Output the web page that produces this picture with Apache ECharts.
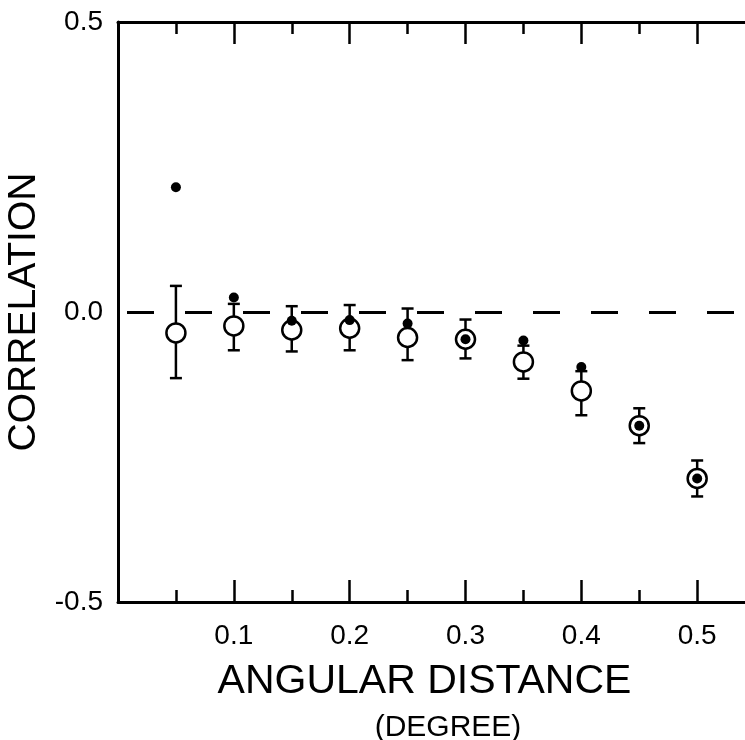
<!DOCTYPE html>
<html>
<head>
<meta charset="utf-8">
<script src="https://cdn.jsdelivr.net/npm/echarts@6/dist/echarts.min.js"></script>
<style>
  html, body { margin: 0; padding: 0; background: #fff; }
  #chart { width: 745px; height: 740px; }
</style>
</head>
<body>
<div id="chart"></div>
<script>
// angular distance (degree) of each point
const distances = [0.05, 0.10, 0.15, 0.20, 0.25, 0.30, 0.35, 0.40, 0.45, 0.50]
// open circles: mean correlation with error bar ends
const openMean = [-0.036, -0.024, -0.031, -0.028, -0.044, -0.047, -0.086, -0.136, -0.196, -0.287]
const errHigh = [0.045, 0.014, 0.010, 0.012, 0.006, -0.013, -0.058, -0.102, -0.166, -0.256]
const errLow = [-0.114, -0.066, -0.068, -0.066, -0.083, -0.080, -0.115, -0.178, -0.226, -0.318]
// filled dots
const filledVals = [0.215, 0.025, -0.015, -0.014, -0.020, -0.047, -0.049, -0.095, -0.196, -0.287]
const yTicks = [-0.5, 0.0, 0.5]
const xTickLabels = ['0.1', '0.2', '0.3', '0.4', '0.5']

const font = "'Liberation Sans', Arial, Helvetica, sans-serif"
const ink = '#000'

const openData = distances.map((d, i) => [d, openMean[i]])
const filledData = distances.map((d, i) => [d, filledVals[i]])
const barData = distances.map((d, i) => [d, errLow[i], errHigh[i]])

function renderErrorBar(params, api) {
    const x = api.value(0)
    const lo = api.coord([x, api.value(1)])
    const hi = api.coord([x, api.value(2)])
    const half = 6
    const style = { stroke: ink, lineWidth: 2.5, fill: null }
    return {
        type: 'group',
        children: [
            { type: 'line', shape: { x1: hi[0], y1: hi[1], x2: lo[0], y2: lo[1] }, style: style },
            { type: 'line', shape: { x1: hi[0] - half, y1: hi[1], x2: hi[0] + half, y2: hi[1] }, style: style },
            { type: 'line', shape: { x1: lo[0] - half, y1: lo[1], x2: lo[0] + half, y2: lo[1] }, style: style }
        ]
    }
}

// the frame runs past the right edge of the page, so the axis goes to 0.6
function xAxisSide(position, majorLen, withLabels) {
    return {
        type: 'value',
        position: position,
        min: 0,
        max: 0.6,
        interval: 0.1,
        axisLine: { show: true, onZero: false, lineStyle: { color: ink, width: 3 } },
        axisTick: { show: true, inside: true, length: majorLen, lineStyle: { color: ink, width: 2.5 } },
        minorTick: { show: true, splitNumber: 2, length: 12, lineStyle: { color: ink, width: 2.5 } },
        axisLabel: withLabels ? {
            show: true,
            margin: 20,
            color: ink,
            fontFamily: font,
            fontSize: 28,
            formatter: v => {
                const s = v.toFixed(1)
                return xTickLabels.indexOf(s) >= 0 ? s : ''
            }
        } : { show: false },
        splitLine: { show: false },
        name: withLabels ? '{a|ANGULAR DISTANCE}\n{b|(DEGREE)}' : '',
        nameLocation: 'middle',
        nameGap: 58,
        nameTextStyle: {
            color: ink,
            rich: {
                a: { fontFamily: font, fontSize: 41, lineHeight: 44, color: ink, padding: [0, 82, 0, 0] },
                b: { fontFamily: font, fontSize: 30, lineHeight: 48, color: ink, padding: [0, 35, 0, 0] }
            }
        }
    }
}

const chart = echarts.init(document.getElementById('chart'), null, { renderer: 'canvas' })

const option = {
    backgroundColor: '#fff',
    animation: false,
    grid: { left: 118, right: -68, top: 22, bottom: 138, containLabel: false, outerBoundsMode: 'none' },
    xAxis: [
        xAxisSide('bottom', 22, true),
        xAxisSide('top', 22, false)
    ],
    yAxis: {
        type: 'value',
        min: yTicks[0],
        max: yTicks[yTicks.length - 1],
        interval: 0.5,
        axisLine: { show: true, onZero: false, lineStyle: { color: ink, width: 3 } },
        axisTick: { show: false },
        splitLine: { show: false },
        axisLabel: {
            color: ink,
            fontFamily: font,
            fontSize: 28,
            margin: 15,
            formatter: v => v.toFixed(1)
        },
        name: 'CORRELATION',
        nameLocation: 'middle',
        nameRotate: 90,
        nameGap: 72,
        nameTextStyle: { color: ink, fontFamily: font, fontSize: 39 }
    },
    series: [
        {
            name: 'error',
            type: 'custom',
            xAxisIndex: 0,
            renderItem: renderErrorBar,
            encode: { x: 0, y: [1, 2] },
            data: barData,
            z: 2,
            markLine: {
                silent: true,
                symbol: 'none',
                label: { show: false },
                lineStyle: { color: ink, width: 3, type: [27, 31], dashOffset: -9 },
                data: [{ yAxis: 0 }]
            }
        },
        {
            name: 'open',
            type: 'scatter',
            xAxisIndex: 0,
            symbol: 'circle',
            symbolSize: 19,
            itemStyle: { color: '#fff', borderColor: ink, borderWidth: 2.5, opacity: 1 },
            data: openData,
            z: 3
        },
        {
            name: 'filled',
            type: 'scatter',
            xAxisIndex: 0,
            symbol: 'circle',
            symbolSize: 10,
            itemStyle: { color: ink, opacity: 1 },
            data: filledData,
            z: 4
        }
    ]
}

chart.setOption(option)
</script>
</body>
</html>
